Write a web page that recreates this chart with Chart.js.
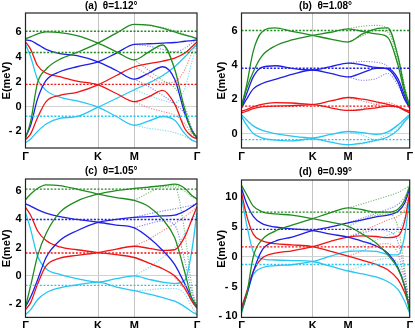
<!DOCTYPE html>
<html>
  <head>
    <script src="https://cdn.jsdelivr.net/npm/chart.js@4.4.0/dist/chart.umd.min.js"></script>
    <style>
      body { margin: 0; background: #fff; }
      canvas { position: absolute; }
    </style>
  </head>
  <body>
    <canvas id="pa" width="207" height="164" style="left:0;top:0"></canvas>
    <canvas id="pb" width="208" height="164" style="left:207px;top:0"></canvas>
    <canvas id="pc" width="207" height="164" style="left:0;top:164px"></canvas>
    <canvas id="pd" width="208" height="164" style="left:207px;top:164px"></canvas>
    <script>
      // path Γ-K-M-Γ, K and M as fractions of the path length
      const K = 0.423, M = 0.634;
      const pathX = [0, 0.03, 0.07, 0.12, 0.2, 0.3, K, 0.53, M, 0.72, 0.8, 0.87, 0.93, 0.97, 1];
      const tailX = [M, 0.72, 0.8, 0.87, 0.93, 0.97, 1];
      const pathLabels = ['Γ', 'K', 'M', 'Γ'];
      const bandColors = ['#1f8c1f', '#1f1fe8', '#f01414', '#27c6f2'];
      const dotColors = ['rgba(31,140,31,0.6)', 'rgba(31,31,232,0.55)', 'rgba(240,20,20,0.55)', 'rgba(39,198,242,0.65)'];

      // bands, two per colour: green, green, blue, blue, red, red, cyan, cyan
      const solidA = [
        [5.45, 5.6, 5.85, 6.0, 5.95, 5.7, 5.1, 4.4, 3.75, 4.4, 4.95, 3.0, -0.3, -2.0, -2.5],
        [-2.55, -1.2, 1.9, 3.0, 3.8, 4.35, 5.1, 5.9, 6.6, 6.55, 6.3, 6.0, 5.75, 5.6, 5.45],
        [5.35, 5.3, 5.0, 4.6, 4.25, 4.1, 3.6, 2.9, 2.2, 2.7, 3.2, 2.2, -0.6, -1.9, -2.5],
        [-2.45, -1.5, 0.6, 2.1, 2.8, 3.2, 3.6, 4.3, 5.0, 5.05, 5.1, 5.15, 5.25, 5.3, 5.35],
        [5.2, 4.6, 3.3, 2.7, 2.4, 2.05, 1.75, 1.05, 0.4, 0.8, 1.3, 0.2, -1.8, -2.4, -2.6],
        [-2.65, -2.2, -0.9, 0.4, 0.9, 1.15, 1.75, 2.5, 3.2, 3.45, 3.65, 3.9, 4.3, 4.8, 5.2],
        [5.0, 4.0, 2.2, 1.3, 0.75, 0.45, -0.05, -0.8, -1.5, -1.15, -0.8, -1.1, -2.2, -2.7, -2.85],
        [-2.9, -2.6, -2.0, -1.4, -0.95, -0.8, -0.05, 0.65, 1.35, 1.9, 2.5, 3.2, 4.0, 4.6, 5.0]
      ];
      const dottedA = [
        [6.6, 6.5, 6.35, 6.1, 5.8, 5.6, 5.45], [3.75, 2.9, 2.1, 1.5, 0.0, -1.8, -2.5],
        [5.0, 4.85, 4.6, 4.4, 4.7, 5.1, 5.35], [2.2, 1.6, 0.9, 0.2, -0.6, -1.8, -2.5],
        [3.2, 2.5, 1.9, 2.0, 3.0, 4.3, 5.2], [0.4, -0.1, -0.4, -0.7, -1.4, -2.2, -2.6],
        [1.35, 0.9, 0.5, 0.3, 1.5, 3.6, 5.0], [-1.5, -1.75, -1.9, -2.1, -2.4, -2.7, -2.85]
      ];
      const flatA = [6.05, 4.35, 1.78, -0.78];
      const flatColorsA = [0, 0, 2, 3];

      const solidB = [
        [1.6, 2.8, 4.8, 5.9, 6.15, 5.95, 5.72, 5.5, 5.33, 5.8, 6.1, 6.15, 4.5, 2.6, 1.6],
        [1.6, 2.6, 3.6, 4.5, 5.1, 5.45, 5.72, 5.9, 6.1, 5.95, 5.8, 5.6, 4.0, 2.4, 1.6],
        [1.5, 2.3, 3.3, 3.85, 3.95, 3.8, 3.7, 3.9, 4.1, 4.0, 3.85, 3.75, 3.0, 2.0, 1.5],
        [1.5, 2.0, 2.6, 2.9, 3.15, 3.45, 3.7, 3.5, 3.3, 3.55, 3.8, 3.8, 3.2, 2.2, 1.5],
        [1.3, 1.4, 1.55, 1.7, 1.8, 1.78, 1.7, 1.9, 2.1, 2.0, 1.85, 1.7, 1.55, 1.4, 1.3],
        [1.2, 1.3, 1.45, 1.55, 1.6, 1.62, 1.68, 1.5, 1.35, 1.4, 1.5, 1.6, 1.55, 1.35, 1.2],
        [1.1, 0.8, 0.45, 0.2, 0.0, -0.15, -0.25, -0.05, 0.12, 0.05, -0.05, 0.1, 0.5, 0.85, 1.1],
        [1.0, 0.5, 0.0, -0.25, -0.38, -0.42, -0.3, -0.5, -0.65, -0.55, -0.4, -0.2, 0.2, 0.7, 1.0]
      ];
      const dottedB = [
        [6.1, 6.25, 6.3, 6.1, 4.5, 2.8, 1.6], [5.35, 5.7, 6.0, 5.9, 4.2, 2.5, 1.6],
        [4.1, 4.2, 4.15, 3.9, 3.0, 2.0, 1.5], [3.3, 3.1, 3.2, 3.5, 2.8, 2.0, 1.5],
        [2.1, 1.9, 1.7, 1.6, 1.5, 1.4, 1.3], [1.35, 1.45, 1.7, 1.8, 1.6, 1.35, 1.2],
        [0.12, -0.1, -0.35, -0.2, 0.3, 0.8, 1.1], [-0.65, -0.6, -0.4, 0.0, 0.5, 0.85, 1.0]
      ];
      const flatB = [6.0, 3.8, 1.6, -0.35];
      const flatColorsB = [0, 1, 2, 3];

      const solidC = [
        [5.4, 5.8, 6.2, 6.45, 6.4, 6.15, 5.8, 5.55, 5.35, 4.9, 4.0, 2.7, 0.2, -1.6, -2.2],
        [-2.2, -0.7, 1.4, 3.0, 4.5, 5.3, 5.8, 6.05, 6.2, 6.3, 6.4, 6.5, 6.2, 5.7, 5.45],
        [5.1, 4.95, 4.7, 4.45, 4.2, 4.0, 3.8, 3.6, 3.4, 2.7, 1.8, 0.8, -0.6, -1.6, -2.2],
        [-2.2, -1.5, -0.3, 1.3, 2.5, 3.2, 3.8, 4.0, 4.15, 4.2, 4.25, 4.3, 4.6, 4.9, 5.15],
        [4.85, 4.3, 3.2, 2.5, 2.05, 1.85, 1.65, 1.5, 1.3, 0.9, 0.5, 0.0, -0.9, -1.8, -2.3],
        [-2.4, -1.9, -0.6, 0.7, 1.25, 1.45, 1.65, 1.9, 2.1, 1.95, 1.8, 1.85, 2.8, 4.0, 4.9],
        [4.5, 3.3, 1.4, 0.5, 0.1, -0.2, -0.45, -0.2, 0.0, -0.25, -0.45, -0.55, -0.3, 1.8, 4.5],
        [-2.75, -2.4, -1.7, -1.2, -0.85, -0.65, -0.45, -0.8, -1.05, -1.3, -1.55, -1.8, -2.2, -2.55, -2.75]
      ];
      const dottedC = [
        [5.35, 5.9, 6.3, 6.3, 3.0, -0.8, -2.2], [6.2, 6.3, 6.35, 6.4, 6.0, 5.6, 5.45],
        [4.15, 4.4, 4.6, 4.75, 4.9, 5.0, 5.15], [3.4, 3.7, 3.9, 3.6, 1.0, -1.2, -2.2],
        [2.1, 2.6, 3.2, 3.7, 4.2, 4.6, 4.9], [1.3, 0.9, 0.5, -0.1, -1.0, -1.8, -2.3],
        [0.0, 0.6, 1.3, 2.0, 3.0, 3.9, 4.5], [-1.05, -1.0, -0.9, -0.9, -1.3, -2.2, -2.75]
      ];
      const flatC = [6.15, 4.0, 1.62, -0.68];
      const flatColorsC = [0, 1, 2, 3];

      const solidD = [
        [12.0, 10.5, 8.5, 7.6, 7.2, 7.0, 6.4, 5.8, 5.1, 3.8, 2.3, 0.3, -2.0, -5.0, -9.2],
        [-9.2, -6.5, 0.0, 2.8, 4.3, 5.3, 6.4, 7.4, 8.2, 7.9, 7.5, 7.5, 8.0, 9.5, 12.0],
        [11.5, 9.0, 6.8, 5.6, 5.0, 4.7, 4.4, 3.8, 3.3, 2.6, 1.8, 0.6, -1.8, -5.0, -9.0],
        [-9.0, -6.5, -2.5, 1.0, 2.6, 3.3, 4.4, 5.0, 5.7, 6.2, 6.7, 7.0, 7.6, 9.0, 11.5],
        [10.8, 7.0, 3.8, 2.7, 2.2, 2.0, 1.7, 0.9, 0.1, -0.6, -1.3, -2.2, -3.8, -6.0, -8.5],
        [-8.5, -6.0, -2.5, -0.3, 0.6, 1.0, 1.7, 2.6, 3.3, 3.5, 3.4, 3.2, 3.5, 6.0, 10.8],
        [10.0, 5.5, 0.8, -0.3, -0.55, -0.65, -0.8, -1.6, -2.4, -2.9, -3.4, -4.2, -5.5, -7.5, -9.5],
        [-9.5, -6.5, -3.0, -1.9, -1.5, -1.35, -0.8, 0.1, 0.9, 1.0, 0.9, 0.4, 0.3, 3.5, 10.0]
      ];
      const dottedD = [
        [8.2, 8.9, 9.6, 10.2, 10.8, 11.4, 12.0], [5.1, 6.2, 7.0, 7.2, 5.0, -2.0, -9.2],
        [5.7, 6.5, 7.3, 8.0, 8.8, 10.0, 11.5], [3.3, 4.0, 4.5, 4.3, 2.5, -3.0, -9.0],
        [3.3, 4.3, 5.3, 6.2, 6.8, 8.0, 10.8], [0.1, 1.0, 2.0, 2.2, 0.5, -4.0, -8.5],
        [0.9, 1.8, 2.8, 3.6, 4.5, 6.5, 10.0], [-2.4, -1.5, -0.6, -0.3, -1.0, -5.0, -9.5]
      ];
      const flatD = [7.5, 4.6, 1.65, -1.3];
      const flatColorsD = [0, 1, 2, 3];

      const font = "'Liberation Sans', Arial, sans-serif";
      const fmt = (v) => (v < 0 ? '- ' + Math.abs(v) : String(v));

      const frame = {
        id: 'frame',
        afterDraw(chart) {
          const { ctx, chartArea: a } = chart;
          ctx.save();
          ctx.strokeStyle = '#222';
          ctx.lineWidth = 1.2;
          ctx.strokeRect(a.left, a.top, a.right - a.left, a.bottom - a.top);
          ctx.restore();
        },
      };

      function panel(id, title, solid, dotted, flat, flatColors, yMin, yMax, yTicks, lay) {
        const datasets = [];
        flat.forEach((v, i) => {
          datasets.push({
            data: [{ x: 0, y: v }, { x: 1, y: v }],
            borderColor: bandColors[flatColors[i]],
            borderWidth: 1.4,
            borderDash: [2, 1.6],
            order: 0,
          });
        });
        solid.forEach((b, i) => {
          datasets.push({
            data: pathX.map((x, j) => ({ x, y: b[j] })),
            borderColor: bandColors[Math.floor(i / 2)],
            borderWidth: 1.3,
            cubicInterpolationMode: 'monotone',
            order: 1,
          });
        });
        dotted.forEach((b, i) => {
          datasets.push({
            data: tailX.map((x, j) => ({ x, y: b[j] })),
            borderColor: dotColors[Math.floor(i / 2)],
            borderWidth: 1.1,
            borderDash: [1.2, 1.4],
            cubicInterpolationMode: 'monotone',
            order: 2,
          });
        });

        new Chart(document.getElementById(id), {
          type: 'line',
          data: { datasets },
          plugins: [frame],
          options: {
            responsive: false,
            animation: false,
            devicePixelRatio: 1,
            layout: { padding: { left: lay.padLeft, right: lay.padRight, top: 0, bottom: 0 } },
            elements: { point: { radius: 0 } },
            plugins: {
              legend: { display: false },
              tooltip: { enabled: false },
              title: {
                display: true,
                text: title,
                fullSize: false,
                color: '#000',
                font: { family: font, size: 10, weight: 'bold', lineHeight: 1.2 },
                padding: { top: lay.titleTop, bottom: lay.titleBottom },
              },
            },
            scales: {
              x: {
                type: 'linear',
                min: 0,
                max: 1,
                afterBuildTicks: (s) => {
                  s.ticks = [0, K, M, 1].map((v) => ({ value: v }));
                },
                afterFit: (s) => {
                  s.height = lay.xh;
                },
                border: { display: false },
                grid: {
                  drawTicks: false,
                  color: (c) => (c.tick && c.tick.value > 0 && c.tick.value < 1 ? '#c4c4c4' : 'rgba(0,0,0,0)'),
                  lineWidth: 1,
                },
                ticks: {
                  autoSkip: false,
                  maxRotation: 0,
                  padding: 2,
                  color: '#000',
                  font: { family: font, size: 11, weight: 'bold' },
                  callback: (v, i) => pathLabels[i],
                },
              },
              y: {
                min: yMin,
                max: yMax,
                afterBuildTicks: (s) => {
                  s.ticks = yTicks.map((v) => ({ value: v }));
                },
                afterFit: (s) => {
                  s.width = lay.yw;
                },
                border: { display: false },
                grid: {
                  drawTicks: false,
                  color: (c) => (c.tick && c.tick.value === 0 ? '#d2d2d2' : 'rgba(0,0,0,0)'),
                },
                title: {
                  display: true,
                  text: 'E(meV)',
                  color: '#000',
                  padding: { top: 0, bottom: 0 },
                  font: { family: font, size: 11, weight: 'bold' },
                },
                ticks: {
                  padding: 4,
                  color: '#000',
                  font: { family: font, size: 11, weight: 'bold' },
                  callback: (v) => fmt(v),
                },
              },
            },
          },
        });
      }

      panel('pa', '(a)  θ=1.12°', solidA, dottedA, flatA, flatColorsA, -3.33, 7.52, [-2, 0, 2, 4, 6],
        { padLeft: 0, padRight: 10, yw: 25.5, xh: 16, titleTop: 0, titleBottom: 1 });
      panel('pb', '(b)  θ=1.08°', solidB, dottedB, flatB, flatColorsB, -0.84, 7.02, [0, 2, 4, 6],
        { padLeft: 8, padRight: 3, yw: 26.5, xh: 16, titleTop: 0, titleBottom: 1 });
      panel('pc', '(c)  θ=1.05°', solidC, dottedC, flatC, flatColorsC, -2.95, 6.87, [-2, 0, 2, 4, 6],
        { padLeft: 0, padRight: 10, yw: 25.5, xh: 10.5, titleTop: 1, titleBottom: 2 });
      panel('pd', '(d)  θ=0.99°', solidD, dottedD, flatD, flatColorsD, -10.2, 12.9, [-10, -5, 0, 5, 10],
        { padLeft: 8, padRight: 3, yw: 26.5, xh: 10.5, titleTop: 2, titleBottom: 2 });
    </script>
  </body>
</html>
